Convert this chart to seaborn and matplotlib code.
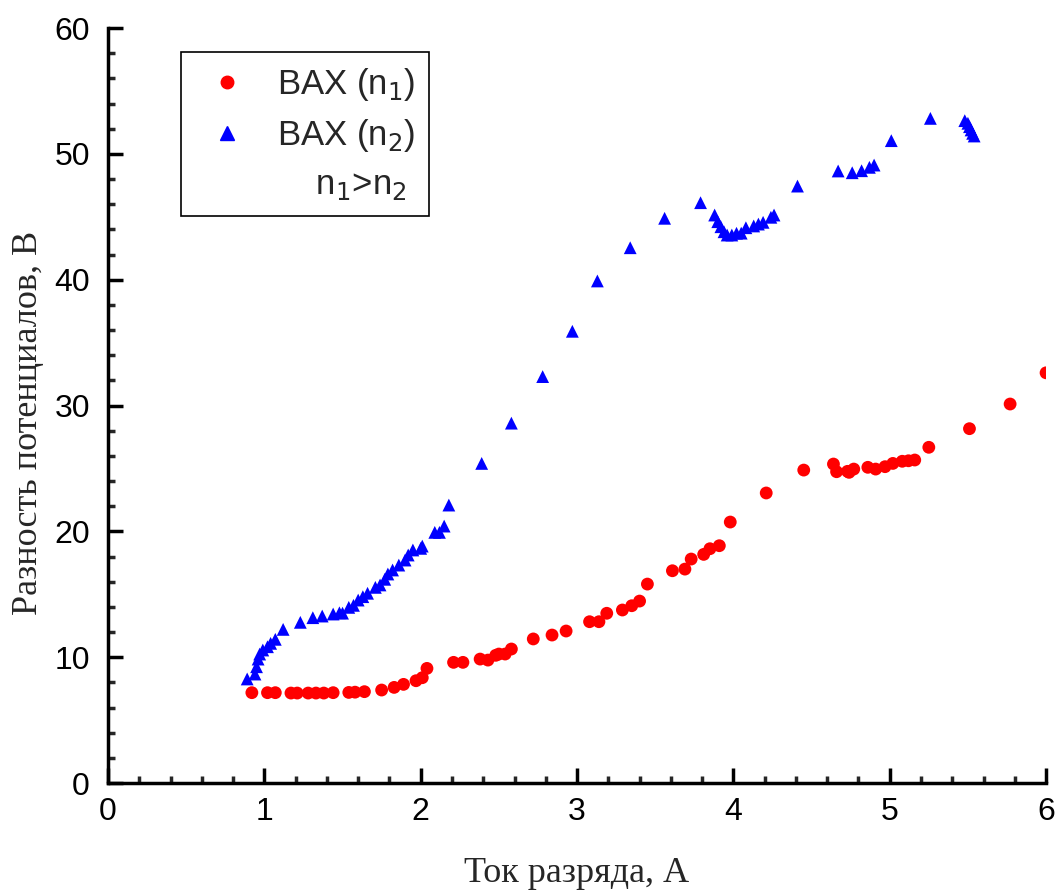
import numpy as np
import pandas as pd
import matplotlib
matplotlib.use("Agg")
import matplotlib.pyplot as plt
from matplotlib.ticker import MultipleLocator
from matplotlib.lines import Line2D
import seaborn as sns

# ── DATA ──────────────────────────────────────────────────────────────
# BAX (n1), red circles
i_n1 = [0.92, 1.02, 1.07, 1.17, 1.21, 1.28, 1.33, 1.38, 1.44, 1.54, 1.58,
        1.64, 1.75, 1.83, 1.89, 1.97, 2.01, 2.04, 2.21, 2.27, 2.38, 2.43,
        2.48, 2.50, 2.54, 2.58, 2.72, 2.84, 2.93, 3.08, 3.14, 3.19, 3.29,
        3.35, 3.40, 3.45, 3.61, 3.69, 3.73, 3.81, 3.85, 3.91, 3.98, 4.21,
        4.45, 4.64, 4.66, 4.73, 4.74, 4.77, 4.86, 4.91, 4.97, 5.02, 5.08,
        5.12, 5.16, 5.25, 5.51, 5.77, 6.00]
u_n1 = [7.18, 7.18, 7.18, 7.15, 7.15, 7.15, 7.15, 7.15, 7.18, 7.20, 7.22,
        7.26, 7.39, 7.60, 7.84, 8.13, 8.37, 9.11, 9.59, 9.59, 9.85, 9.77,
        10.15, 10.25, 10.25, 10.65, 11.45, 11.76, 12.08, 12.82, 12.82, 13.49, 13.75,
        14.09, 14.46, 15.81, 16.87, 17.00, 17.80, 18.17, 18.62, 18.86, 20.74, 23.05,
        24.87, 25.35, 24.74, 24.77, 24.69, 24.95, 25.09, 24.95, 25.14, 25.40, 25.57,
        25.61, 25.67, 26.68, 28.16, 30.12, 32.60]

# BAX (n2), blue triangles
i_n2 = [0.89, 0.94, 0.95, 0.96, 0.97, 0.99, 1.02, 1.04, 1.07, 1.12, 1.23,
        1.31, 1.37, 1.44, 1.48, 1.50, 1.54, 1.57, 1.60, 1.63, 1.66, 1.71,
        1.74, 1.77, 1.79, 1.82, 1.86, 1.90, 1.92, 1.95, 2.00, 2.01, 2.09,
        2.12, 2.15, 2.18, 2.39, 2.58, 2.78, 2.97, 3.13, 3.34, 3.56, 3.79,
        3.88, 3.90, 3.92, 3.94, 3.96, 3.99, 4.02, 4.05, 4.08, 4.13, 4.16,
        4.19, 4.24, 4.26, 4.41, 4.67, 4.76, 4.82, 4.87, 4.90, 5.01, 5.26,
        5.48, 5.50, 5.51, 5.52, 5.53, 5.54]
u_n2 = [8.27, 8.66, 9.24, 9.85, 10.25, 10.57, 10.83, 11.10, 11.42, 12.21, 12.77,
        13.14, 13.27, 13.43, 13.53, 13.50, 13.96, 14.12, 14.54, 14.81, 15.08, 15.55,
        15.74, 16.19, 16.61, 16.93, 17.32, 17.72, 18.12, 18.52, 18.65, 18.83, 19.92,
        19.92, 20.42, 22.09, 25.40, 28.60, 32.30, 35.90, 39.90, 42.54, 44.88, 46.12,
        45.14, 44.61, 44.21, 43.81, 43.55, 43.55, 43.69, 43.70, 44.13, 44.27, 44.42,
        44.56, 44.96, 45.14, 47.44, 48.64, 48.50, 48.66, 48.93, 49.11, 51.05, 52.82,
        52.64, 52.43, 52.16, 51.90, 51.63, 51.42]

df = pd.concat([
    pd.DataFrame({"I": i_n1, "U": u_n1, "series": "n1"}),
    pd.DataFrame({"I": i_n2, "U": u_n2, "series": "n2"}),
], ignore_index=True)

# ── STYLE ─────────────────────────────────────────────────────────────
sns.set_style("ticks", {"xtick.direction": "in", "ytick.direction": "in"})
plt.rcParams["font.family"] = ["Liberation Sans", "DejaVu Sans"]

fig = plt.figure(figsize=(10.56, 8.9), dpi=100)
ax = fig.add_axes([0.1023, 0.1202, 0.8883, 0.8483])

sns.scatterplot(data=df, x="I", y="U", hue="series", style="series",
                palette={"n1": "#ff0000", "n2": "#0000ff"},
                markers={"n1": "o", "n2": "^"}, s=85, linewidth=0,
                legend=False, ax=ax)

ax.set_xlim(0, 6)
ax.set_ylim(0, 60)
ax.xaxis.set_major_locator(MultipleLocator(1))
ax.xaxis.set_minor_locator(MultipleLocator(0.2))
ax.yaxis.set_major_locator(MultipleLocator(10))
ax.yaxis.set_minor_locator(MultipleLocator(2))
ax.tick_params(which="major", direction="in", length=11, width=2.5,
               labelsize=23, colors="black")
ax.tick_params(which="minor", direction="in", length=5, width=2.5)
ax.tick_params(axis="y", which="major", pad=13)
ax.tick_params(axis="x", which="major", pad=10)
for side in ["top", "right"]:
    ax.spines[side].set_visible(False)
for side in ["left", "bottom"]:
    ax.spines[side].set_linewidth(2.5)
    ax.spines[side].set_color("black")

ax.set_xlabel("Ток разряда, А", fontsize=26, family="Liberation Serif",
              labelpad=22)
ax.set_ylabel("Разность потенциалов, В", fontsize=26,
              family="Liberation Serif")
ax.yaxis.set_label_coords(-0.067, 0.477)

handles = [
    Line2D([], [], marker="o", color="#ff0000", linestyle="none", markersize=9),
    Line2D([], [], marker="^", color="#0000ff", linestyle="none", markersize=9.5),
    Line2D([], [], linestyle="none"),
]
labels = ["BAX (n$_1$)", "BAX (n$_2$)", "    n$_1$>n$_2$"]
leg = ax.legend(handles, labels, loc="upper left",
                bbox_to_anchor=(0.078, 0.968), borderaxespad=0,
                fontsize=25, frameon=True, fancybox=False,
                edgecolor="black", framealpha=1,
                handletextpad=0.5, borderpad=0.4, labelspacing=0.4,
                handlelength=1.85)
leg.get_frame().set_linewidth(1.2)

fig.savefig("out.png", dpi=100)
